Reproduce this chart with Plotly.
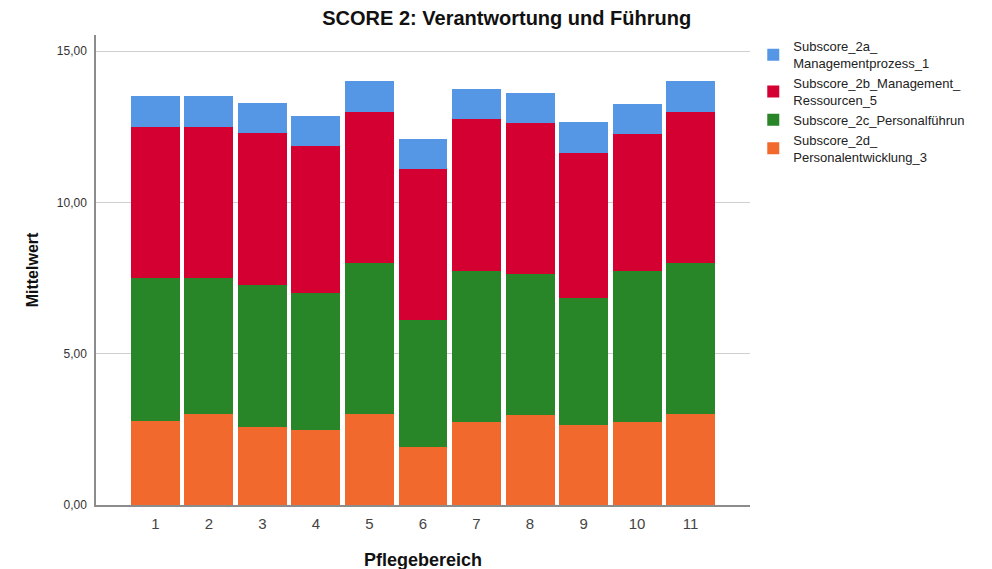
import plotly.graph_objects as go

categories = [1, 2, 3, 4, 5, 6, 7, 8, 9, 10, 11]
tick_labels = ["1", "2", "3", "4", "5", "6", "7", "8", "9", "10", "11"]

sub_2d = [2.76, 3.00, 2.58, 2.48, 3.00, 1.92, 2.75, 2.97, 2.65, 2.75, 3.00]
sub_2c = [4.74, 4.50, 4.70, 4.51, 5.00, 4.18, 4.99, 4.65, 4.18, 4.99, 5.00]
sub_2b = [5.00, 5.00, 5.00, 4.88, 5.00, 4.99, 5.00, 4.99, 4.81, 4.51, 5.00]
sub_2a = [1.00, 1.00, 1.00, 1.00, 1.00, 1.00, 1.00, 1.00, 1.00, 1.00, 1.00]

series = [
    ("Subscore_2d_<br>Personalentwicklung_3", sub_2d, "#F2692D"),
    ("Subscore_2c_Personalführun", sub_2c, "#288628"),
    ("Subscore_2b_Management_<br>Ressourcen_5", sub_2b, "#D40032"),
    ("Subscore_2a_<br>Managementprozess_1", sub_2a, "#5596E5"),
]

fig = go.Figure()
for name, vals, col in series:
    fig.add_trace(go.Bar(
        x=categories, y=vals, name=name,
        marker=dict(color=col, line=dict(width=0)),
    ))

FONT = "Liberation Sans, Arial, sans-serif"

fig.update_layout(
    width=992, height=569,
    barmode="stack", bargap=0.085,
    separators=",.",
    paper_bgcolor="white", plot_bgcolor="white",
    margin=dict(l=88, r=250, t=27, b=72, autoexpand=False),
    font=dict(family=FONT, color="#222"),
    title=dict(
        text="<b>SCORE 2: Verantwortung und Führung</b>",
        x=0.628, xref="paper", xanchor="center",
        y=0.982, yref="container", yanchor="middle",
        font=dict(size=20, color="#111", family=FONT),
    ),
    legend=dict(
        x=1.005, xref="paper", xanchor="left",
        y=1.008, yanchor="top",
        traceorder="reversed",
        font=dict(size=13, color="#222", family=FONT),
        itemwidth=30, tracegroupgap=0,
        bgcolor="rgba(0,0,0,0)",
    ),
    xaxis=dict(
        range=[-0.11, 12.11], automargin=False,
        tickmode="array", tickvals=categories, ticktext=tick_labels,
        showgrid=False, zeroline=False,
        showline=True, linecolor="#8c8c8c", linewidth=1.5,
        ticks="", ticklabelstandoff=4,
        tickfont=dict(size=15, color="#444", family=FONT),
        title=dict(text="<b>Pflegebereich</b>", font=dict(size=18, color="#111", family=FONT), standoff=23),
    ),
    yaxis=dict(
        range=[0, 15.53], automargin=False,
        tickmode="array", tickvals=[0, 5, 10, 15],
        tickformat=".2f",
        showgrid=True, gridcolor="#cfcfcf", gridwidth=1,
        zeroline=False,
        showline=True, linecolor="#8c8c8c", linewidth=1.5,
        ticks="", ticklabelstandoff=5,
        tickfont=dict(size=12, color="#333", family=FONT),
        title=dict(text="<b>Mittelwert</b>", font=dict(size=16, color="#111", family=FONT), standoff=14),
    ),
)

fig.write_html("out.html")
